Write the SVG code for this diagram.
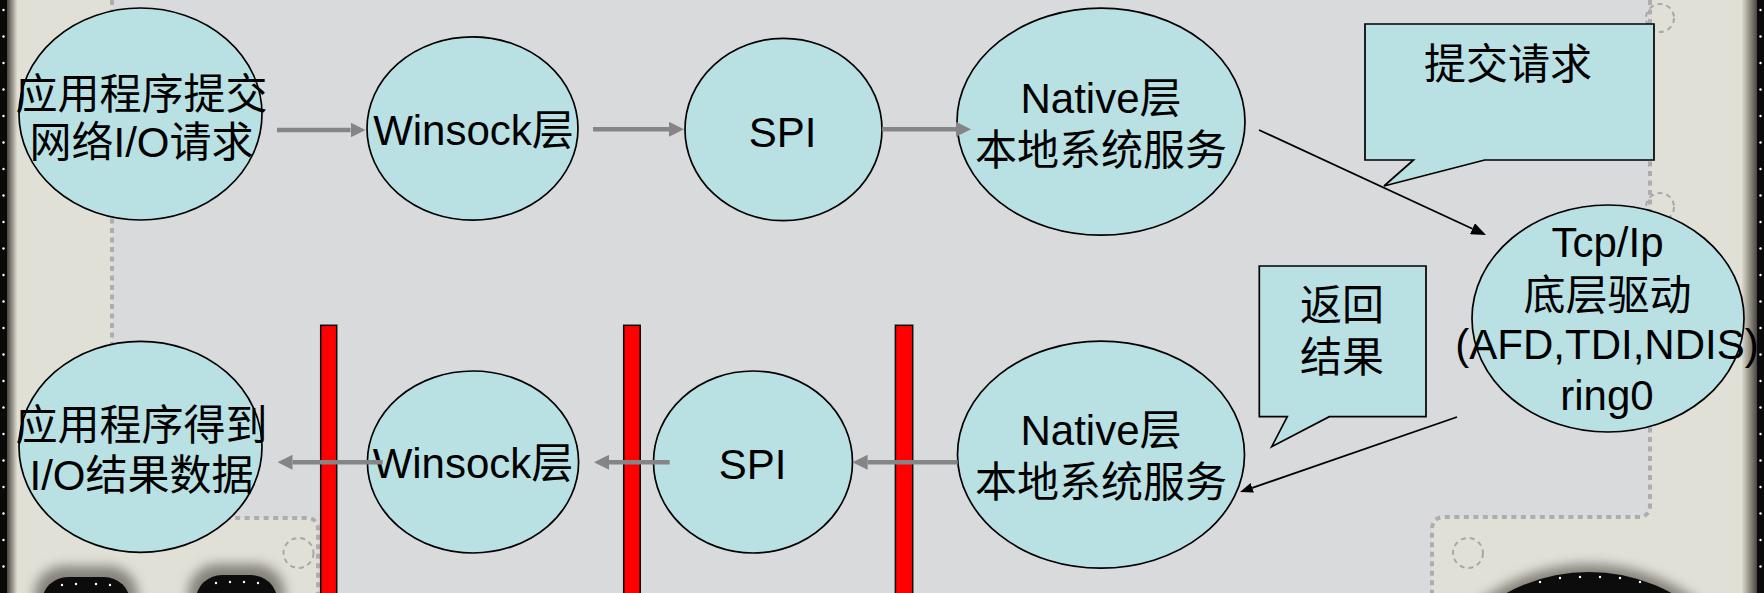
<svg xmlns="http://www.w3.org/2000/svg" width="1764" height="593" viewBox="0 0 1764 593">
<style>
.node{fill:#b9e0e3;stroke:#000;stroke-width:1.7}
.t{font-family:"Liberation Sans","Noto Sans CJK SC",sans-serif;font-size:42px;fill:#000;text-anchor:middle}
.ga{stroke:#858585;stroke-width:4.5;fill:none}
.ba{stroke:#000;stroke-width:1.8;fill:none}
.bar{fill:#ff0000;stroke:#000;stroke-width:1.5}
.dotl{stroke:#adadb0;stroke-width:4;stroke-dasharray:5 4.5;fill:none}
.dc{stroke:#a8a8ab;stroke-width:2;stroke-dasharray:5 4;fill:none}
</style>
<defs>
<marker id="gh" markerUnits="userSpaceOnUse" viewBox="0 0 15 15" refX="0" refY="7.5" markerWidth="15" markerHeight="15" orient="auto">
<path d="M0,0 L15,7.5 L0,15 Z" fill="#858585"/>
</marker>
<marker id="bh" markerUnits="userSpaceOnUse" viewBox="0 0 15 12" refX="0" refY="6" markerWidth="15" markerHeight="12" orient="auto">
<path d="M0,0 L15,6 L0,12 Z" fill="#000"/>
</marker>
<marker id="bh2" markerUnits="userSpaceOnUse" viewBox="0 0 13 10" refX="0" refY="5" markerWidth="13" markerHeight="10" orient="auto">
<path d="M0,0 L13,5 L0,10 Z" fill="#000"/>
</marker>
<linearGradient id="lg" x1="0" y1="0" x2="1" y2="0">
<stop offset="0" stop-color="#4a463f"/>
<stop offset="1" stop-color="#dcdace"/>
</linearGradient>
<linearGradient id="rg" x1="0" y1="0" x2="1" y2="0">
<stop offset="0" stop-color="#dcdace"/>
<stop offset="1" stop-color="#4a463f"/>
</linearGradient>
<filter id="blur" x="-50%" y="-50%" width="200%" height="200%">
<feGaussianBlur stdDeviation="6"/>
</filter>
</defs>

<g id="background">
<rect x="0" y="0" width="1764" height="593" fill="#e1e0d7"/>
<path d="M112,0 H1650 V505 Q1650,517 1638,517 H1445 Q1432,517 1432,530 V593 H318 V530 Q318,518 306,518 H124 Q112,518 112,506 Z" fill="#d9dadc"/>
<path class="dotl" d="M112,0 V506 Q112,518 124,518 H306 Q318,518 318,530 V593"/>
<path class="dotl" d="M1650,0 V505 Q1650,517 1638,517 H1445 Q1432,517 1432,530 V593"/>
<circle class="dc" cx="298.5" cy="553" r="15"/>
<circle class="dc" cx="1468" cy="553" r="15"/>
<circle class="dc" cx="1660" cy="18" r="14"/>
<circle class="dc" cx="1660" cy="207" r="14"/>
<rect x="7" y="0" width="10" height="593" fill="url(#lg)"/>
<rect x="0" y="0" width="7" height="593" fill="#0a0a0a"/>
<rect x="1742" y="0" width="15" height="593" fill="url(#rg)"/>
<rect x="1757" y="0" width="7" height="593" fill="#0a0a0a"/>
<g fill="#ffffff">
<circle cx="3.5" cy="10" r="1.2"/><circle cx="3.5" cy="36.5" r="1.2"/><circle cx="3.5" cy="63" r="1.2"/><circle cx="3.5" cy="89.5" r="1.2"/><circle cx="3.5" cy="116" r="1.2"/><circle cx="3.5" cy="142.5" r="1.2"/><circle cx="3.5" cy="169" r="1.2"/><circle cx="3.5" cy="195.5" r="1.2"/><circle cx="3.5" cy="222" r="1.2"/><circle cx="3.5" cy="248.5" r="1.2"/><circle cx="3.5" cy="275" r="1.2"/><circle cx="3.5" cy="301.5" r="1.2"/><circle cx="3.5" cy="328" r="1.2"/><circle cx="3.5" cy="354.5" r="1.2"/><circle cx="3.5" cy="381" r="1.2"/><circle cx="3.5" cy="407.5" r="1.2"/><circle cx="3.5" cy="434" r="1.2"/><circle cx="3.5" cy="460.5" r="1.2"/><circle cx="3.5" cy="487" r="1.2"/><circle cx="3.5" cy="513.5" r="1.2"/><circle cx="3.5" cy="540" r="1.2"/><circle cx="3.5" cy="566.5" r="1.2"/>
<circle cx="1760.5" cy="10" r="1.2"/><circle cx="1760.5" cy="36.5" r="1.2"/><circle cx="1760.5" cy="63" r="1.2"/><circle cx="1760.5" cy="89.5" r="1.2"/><circle cx="1760.5" cy="116" r="1.2"/><circle cx="1760.5" cy="142.5" r="1.2"/><circle cx="1760.5" cy="169" r="1.2"/><circle cx="1760.5" cy="195.5" r="1.2"/><circle cx="1760.5" cy="222" r="1.2"/><circle cx="1760.5" cy="248.5" r="1.2"/><circle cx="1760.5" cy="275" r="1.2"/><circle cx="1760.5" cy="301.5" r="1.2"/><circle cx="1760.5" cy="328" r="1.2"/><circle cx="1760.5" cy="354.5" r="1.2"/><circle cx="1760.5" cy="381" r="1.2"/><circle cx="1760.5" cy="407.5" r="1.2"/><circle cx="1760.5" cy="434" r="1.2"/><circle cx="1760.5" cy="460.5" r="1.2"/><circle cx="1760.5" cy="487" r="1.2"/><circle cx="1760.5" cy="513.5" r="1.2"/><circle cx="1760.5" cy="540" r="1.2"/><circle cx="1760.5" cy="566.5" r="1.2"/>
</g>
<g filter="url(#blur)" fill="#6e6c64" opacity="0.8">
<rect x="34" y="566" width="104" height="60" rx="30"/>
<rect x="188" y="564" width="97" height="60" rx="30"/>
<circle cx="1589" cy="744" r="180"/>
</g>
<rect x="42" y="577" width="88" height="50" rx="26" fill="#0c0c0c"/>
<rect x="196" y="575" width="81" height="50" rx="26" fill="#0c0c0c"/>
<circle cx="1589" cy="744" r="172" fill="#0c0c0c"/>
<g fill="#ffffff">
<circle cx="62" cy="585" r="1.2"/><circle cx="76" cy="584" r="1.2"/><circle cx="96" cy="584" r="1.2"/><circle cx="110" cy="585" r="1.2"/>
<circle cx="216" cy="583" r="1.2"/><circle cx="230" cy="582" r="1.2"/><circle cx="244" cy="582" r="1.2"/><circle cx="258" cy="583" r="1.2"/>
<circle cx="1540" cy="582" r="1.2"/><circle cx="1560" cy="578" r="1.2"/><circle cx="1580" cy="577" r="1.2"/><circle cx="1600" cy="577" r="1.2"/><circle cx="1620" cy="578" r="1.2"/><circle cx="1640" cy="582" r="1.2"/>
</g>
</g>

<g id="barriers">
<rect class="bar" x="320.7" y="325.3" width="16" height="280"/>
<rect class="bar" x="623.7" y="325.3" width="16.5" height="280"/>
<rect class="bar" x="895.4" y="325.3" width="17.3" height="280"/>
</g>

<g id="app-submit">
<ellipse class="node" cx="140.5" cy="114" rx="121.5" ry="106"/>
<text class="t" x="141.5" y="109">应用程序提交</text>
<text class="t" x="141.5" y="157">网络I/O请求</text>
</g>
<g id="winsock-top">
<ellipse class="node" cx="472.5" cy="128.5" rx="105.5" ry="91.7"/>
<text class="t" x="473.5" y="145">Winsock层</text>
</g>
<g id="spi-top">
<ellipse class="node" cx="783.5" cy="129.5" rx="98.5" ry="91.2"/>
<text class="t" x="782.5" y="146.5">SPI</text>
</g>
<g id="native-top">
<ellipse class="node" cx="1101" cy="121.7" rx="144" ry="113.5"/>
<text class="t" x="1101" y="113">Native层</text>
<text class="t" x="1101" y="165">本地系统服务</text>
</g>
<g id="tcpip">
<ellipse class="node" cx="1608" cy="318.5" rx="136" ry="113.5"/>
<text class="t" x="1607.5" y="257">Tcp/Ip</text>
<text class="t" x="1607.5" y="310">底层驱动</text>
<text class="t" x="1607" y="358.5">(AFD,TDI,NDIS)</text>
<text class="t" x="1607" y="410">ring0</text>
</g>
<g id="app-result">
<ellipse class="node" cx="140.5" cy="446.8" rx="121.5" ry="105.5"/>
<text class="t" x="141.5" y="440">应用程序得到</text>
<text class="t" x="141.5" y="490">I/O结果数据</text>
</g>
<g id="winsock-bottom">
<ellipse class="node" cx="473" cy="462" rx="105.6" ry="91"/>
<text class="t" x="473" y="478">Winsock层</text>
</g>
<g id="spi-bottom">
<ellipse class="node" cx="753" cy="462" rx="99.5" ry="91"/>
<text class="t" x="752.5" y="478.5">SPI</text>
</g>
<g id="native-bottom">
<ellipse class="node" cx="1101" cy="454.7" rx="143.5" ry="113.5"/>
<text class="t" x="1101" y="445">Native层</text>
<text class="t" x="1101" y="497">本地系统服务</text>
</g>

<g id="connectors">
<line class="ga" x1="277" y1="130" x2="350.5" y2="130" marker-end="url(#gh)"/>
<line class="ga" x1="593" y1="129.3" x2="669" y2="129.3" marker-end="url(#gh)"/>
<line class="ga" x1="882" y1="129.3" x2="956" y2="129.3" marker-end="url(#gh)"/>
<line class="ga" x1="382.7" y1="462.3" x2="292.5" y2="462.3" marker-end="url(#gh)"/>
<line class="ga" x1="669.7" y1="462.3" x2="609" y2="462.3" marker-end="url(#gh)"/>
<line class="ga" x1="957.8" y1="462.3" x2="867.6" y2="462.3" marker-end="url(#gh)"/>
<line class="ba" x1="1259" y1="130" x2="1472.4" y2="228.7" marker-end="url(#bh)"/>
<line class="ba" x1="1457" y1="417" x2="1252.3" y2="487.8" marker-end="url(#bh2)"/>
</g>

<g id="callout-submit">
<path class="node" d="M1365,24 H1654 V160 H1484.7 L1384,186 L1413.5,160 H1365 Z"/>
<text class="t" x="1508" y="79">提交请求</text>
</g>
<g id="callout-return">
<path class="node" d="M1259.3,266 H1426 V416.7 H1329.3 L1271.7,446.7 L1287.3,416.7 H1259.3 Z"/>
<text class="t" x="1342" y="320">返回</text>
<text class="t" x="1342" y="372">结果</text>
</g>
</svg>
